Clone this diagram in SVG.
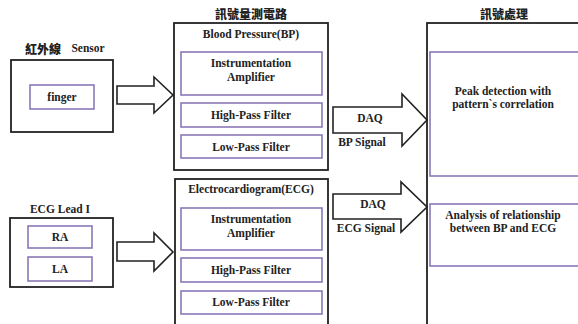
<svg xmlns="http://www.w3.org/2000/svg" width="578" height="324" viewBox="0 0 578 324">
<style>
.outer{fill:#fff;stroke:#222;stroke-width:1.8}
.inner{fill:#fff;stroke:#8a78b8;stroke-width:1.6}
.arrow{fill:#fff;stroke:#222;stroke-width:1.6;stroke-linejoin:miter}
text{font-family:"Liberation Serif","Noto Sans CJK TC",serif;font-weight:bold;font-size:11.5px;fill:#222;text-anchor:middle;dominant-baseline:central}
.cjk{font-family:"Noto Sans CJK TC","Noto Sans CJK SC",sans-serif;font-size:12px;font-weight:900}
</style>
<rect width="578" height="324" fill="#fff"/>
<g id="sensor">
<text class="cjk" x="43" y="48">紅外線</text>
<text x="88" y="48">Sensor</text>
<rect class="outer" x="11" y="60" width="102" height="72"/>
<rect class="inner" x="30" y="85" width="64" height="24"/>
<text x="62" y="97">finger</text>
</g>
<g id="ecglead">
<text x="60" y="209">ECG Lead I</text>
<rect class="outer" x="10" y="218" width="103" height="69"/>
<rect class="inner" x="28" y="226" width="64" height="22"/>
<text x="60" y="237">RA</text>
<rect class="inner" x="28" y="257" width="64" height="24"/>
<text x="60" y="269">LA</text>
</g>
<g id="bp">
<text class="cjk" x="251" y="13">訊號量測電路</text>
<rect class="outer" x="174" y="23" width="154" height="147"/>
<text x="251" y="34">Blood Pressure(BP)</text>
<rect class="inner" x="181" y="52" width="141" height="43"/>
<text x="251" y="63">Instrumentation</text>
<text x="251" y="77">Amplifier</text>
<rect class="inner" x="181" y="103" width="141" height="24"/>
<text x="251" y="115">High-Pass Filter</text>
<rect class="inner" x="181" y="135" width="141" height="23"/>
<text x="251" y="147">Low-Pass Filter</text>
</g>
<g id="ecg">
<rect class="outer" x="175" y="179" width="153" height="160"/>
<text x="251" y="189">Electrocardiogram(ECG)</text>
<rect class="inner" x="181" y="208" width="141" height="42"/>
<text x="251" y="219">Instrumentation</text>
<text x="251" y="233">Amplifier</text>
<rect class="inner" x="181" y="258" width="141" height="24"/>
<text x="251" y="270">High-Pass Filter</text>
<rect class="inner" x="181" y="291" width="141" height="23"/>
<text x="251" y="302">Low-Pass Filter</text>
</g>
<g id="processing">
<text class="cjk" x="504" y="13">訊號處理</text>
<rect class="outer" x="427" y="23" width="180" height="320"/>
<rect class="inner" x="430" y="52" width="170" height="124"/>
<text x="503" y="91">Peak detection with</text>
<text x="503" y="104">pattern`s correlation</text>
<rect class="inner" x="430" y="204" width="170" height="62"/>
<text x="503" y="215">Analysis of relationship</text>
<text x="503" y="228">between BP and ECG</text>
</g>
<g id="connectors">
<polygon class="arrow" points="117,86 154,86 154,77 173,95 154,113 154,104 117,104"/>
<polygon class="arrow" points="117,242 154,242 154,233 173,252 154,271 154,261 117,261"/>
<polygon class="arrow" points="333,107 402,107 402,94 427,120 402,146 402,133 333,133"/>
<polygon class="arrow" points="333,194 401,194 401,182 427,207 401,232 401,219 333,219"/>
<text x="370" y="118">DAQ</text>
<text x="362" y="142">BP Signal</text>
<text x="373" y="204">DAQ</text>
<text x="366" y="228">ECG Signal</text>
</g>
</svg>
